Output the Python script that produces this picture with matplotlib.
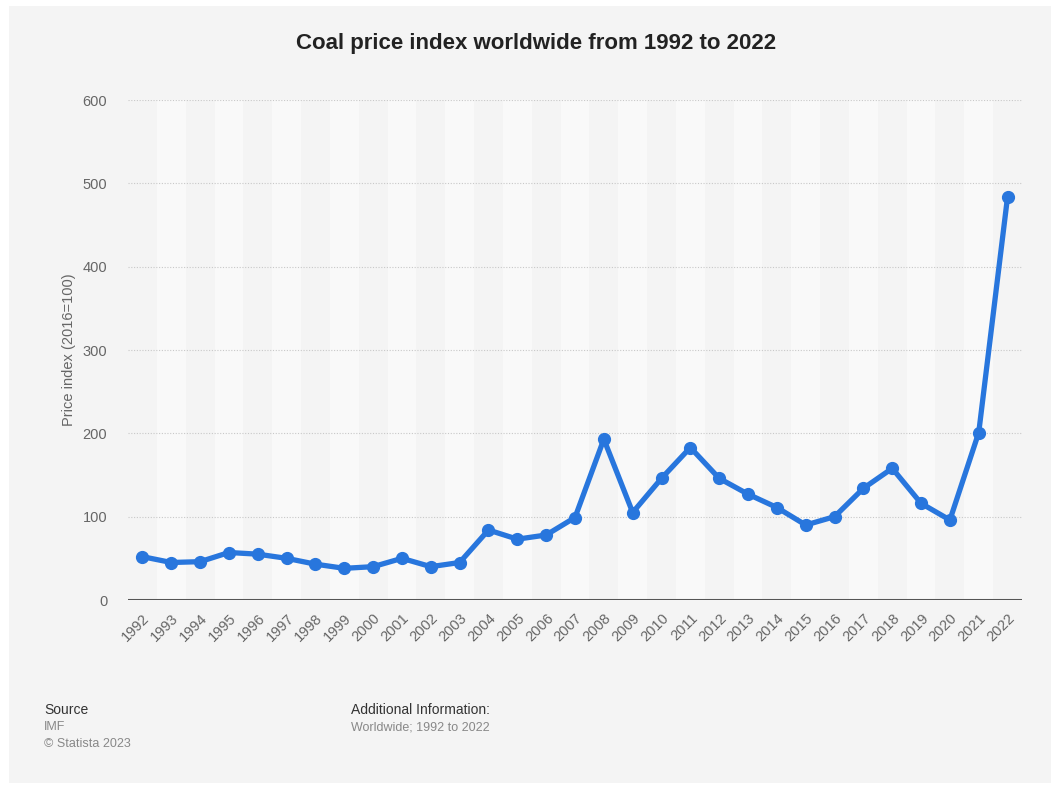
import matplotlib.pyplot as plt
from matplotlib.patches import Rectangle

# Coal price index, 2016 = 100
years = list(range(1992, 2023))
index_values = [52, 45, 46, 57, 55, 50, 43, 38, 40, 50, 40, 45, 84, 73, 78, 99,
                193, 105, 146, 183, 146, 127, 111, 90, 100, 134, 158, 116, 96, 201, 484]
y_ticks = [0, 100, 200, 300, 400, 500, 600]

plt.rcParams['font.family'] = ['Liberation Sans', 'DejaVu Sans']

W, H = 1053, 785
fig = plt.figure(figsize=(W / 100, H / 100), dpi=100)
fig.patch.set_facecolor('white')

# grey card behind everything
fig.patches.append(Rectangle((9 / W, 1 - 783 / H), 1042 / W, 777 / H,
                             transform=fig.transFigure, facecolor='#f4f4f4',
                             edgecolor='none', zorder=-10))

ax = fig.add_axes([128 / W, 1 - 600 / H, 894 / W, 500 / H])
ax.set_facecolor('none')

# alternating column shading
for i, yr in enumerate(years):
    if i % 2 == 1:
        ax.axvspan(yr - 0.5, yr + 0.5, color='#f9f9f9', zorder=0, lw=0)

for t in y_ticks[1:]:
    ax.axhline(t, color='#c8c8c8', lw=0.8, ls=(0, (1, 1.5)), zorder=1)
ax.axhline(0, color='#555555', lw=2.2, zorder=2)

ax.plot(years, index_values, color='#2876dd', lw=3.8, marker='o', ms=8.5,
        solid_joinstyle='round', zorder=3)

ax.set_xlim(1991.5, 2022.5)
ax.set_ylim(0, 600)
ax.set_yticks(y_ticks)
ax.set_xticks(years)
ax.set_xticklabels([str(y) for y in years], rotation=45, ha='right',
                   rotation_mode='anchor')
ax.tick_params(axis='both', length=0, labelsize=10.5, labelcolor='#666666')
ax.tick_params(axis='y', pad=15)
ax.tick_params(axis='x', pad=8)
for s in ax.spines.values():
    s.set_visible(False)

ax.set_ylabel('Price index (2016=100)', fontsize=10.5, color='#666666', labelpad=5)

fig.text(536 / W, 1 - 43 / H, 'Coal price index worldwide from 1992 to 2022',
         ha='center', va='center', fontsize=16, fontweight='bold', color='#222222')

fig.text(44 / W, 1 - 710 / H, 'Source', ha='left', va='center', fontsize=10, color='#333333')
fig.text(44 / W, 1 - 727 / H, 'IMF', ha='left', va='center', fontsize=9, color='#888888')
fig.text(44 / W, 1 - 744 / H, '© Statista 2023', ha='left', va='center', fontsize=9, color='#888888')
fig.text(351 / W, 1 - 710 / H, 'Additional Information:', ha='left', va='center',
         fontsize=10, color='#333333')
fig.text(351 / W, 1 - 727 / H, 'Worldwide; 1992 to 2022', ha='left', va='center',
         fontsize=9, color='#888888')

fig.savefig('out.png', dpi=100)
